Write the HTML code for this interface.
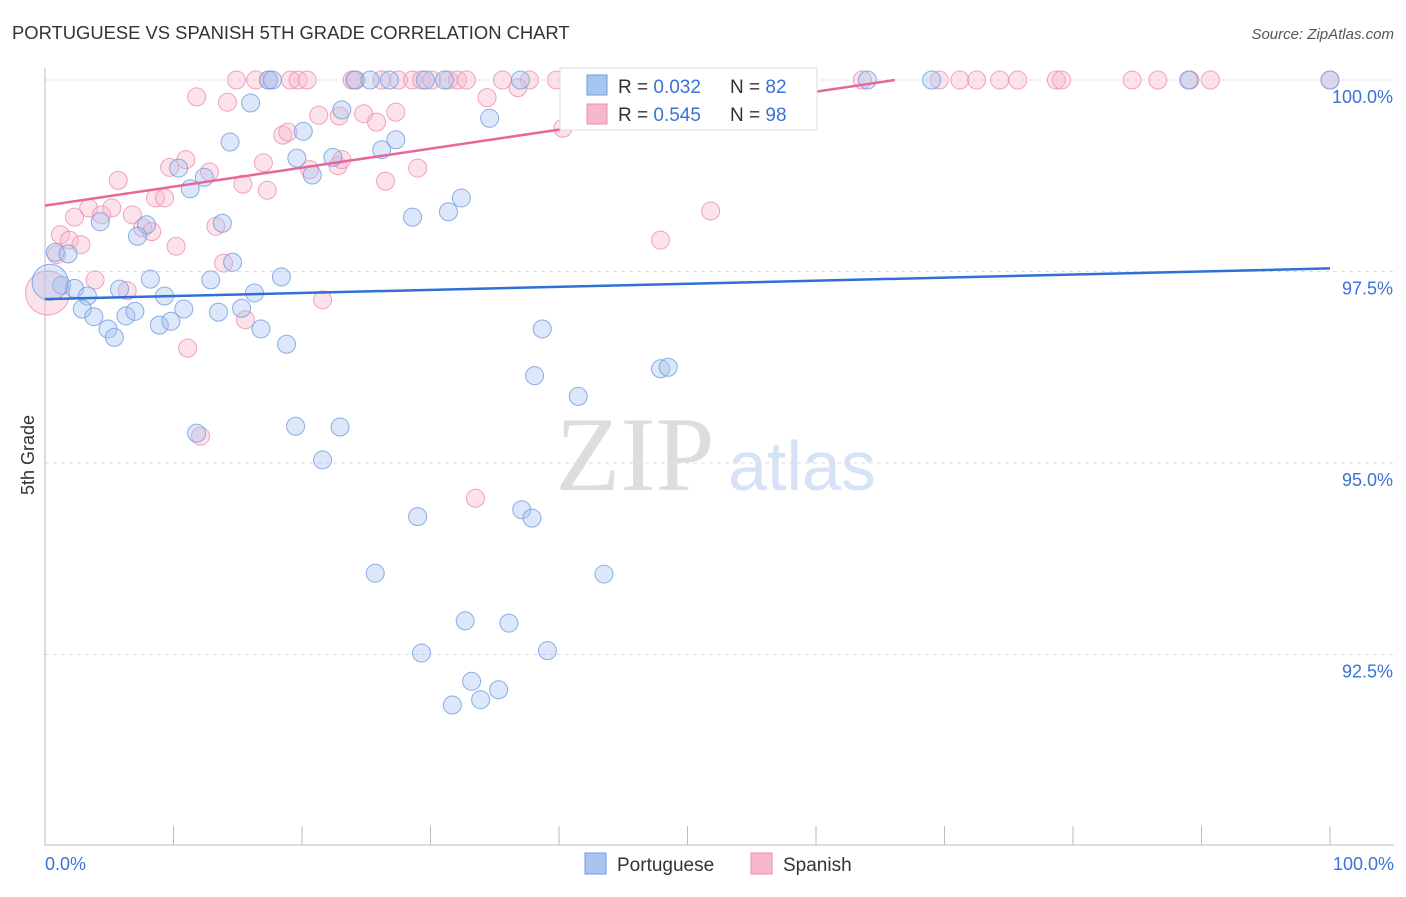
<!DOCTYPE html>
<html><head><meta charset="utf-8"><style>
body{margin:0;background:#fff;font-family:"Liberation Sans",sans-serif}
</style></head><body>
<svg width="1406" height="892" xmlns="http://www.w3.org/2000/svg" font-family="Liberation Sans, sans-serif">
<text x="12" y="39" font-size="18.4" fill="#333">PORTUGUESE VS SPANISH 5TH GRADE CORRELATION CHART</text>
<text x="1394" y="39" font-size="15" fill="#555" text-anchor="end" font-style="italic">Source: ZipAtlas.com</text>
<text x="635" y="490" font-size="106" fill="#ddd" text-anchor="middle" font-family="Liberation Serif, serif">ZIP</text>
<text x="802" y="490" font-size="70" fill="#d6e2f5" text-anchor="middle">atlas</text>
<g id="grid"></g><g id="axes"></g><g id="pts"></g><g id="lines"></g>
<text transform="translate(34,455) rotate(-90)" font-size="18" fill="#333" text-anchor="middle">5th Grade</text>
<g>
<rect x="560" y="68" width="257" height="62" fill="#fff" stroke="#ddd"/>
<rect x="587" y="75" width="20" height="20" fill="#a8c4f0" stroke="#6f9be0"/>
<rect x="587" y="104" width="20" height="20" fill="#f7b8cb" stroke="#ec8eab"/>
<text x="618" y="93" font-size="19" fill="#333">R = <tspan fill="#3a72d8">0.032</tspan></text>
<text x="730" y="93" font-size="19" fill="#333">N = <tspan fill="#3a72d8">82</tspan></text>
<text x="618" y="121" font-size="19" fill="#333">R = <tspan fill="#3a72d8">0.545</tspan></text>
<text x="730" y="121" font-size="19" fill="#333">N = <tspan fill="#3a72d8">98</tspan></text>
</g>
<g>
<rect x="585" y="853" width="21" height="21" fill="#a8c4f0" stroke="#6f9be0"/>
<text x="617" y="871" font-size="19" fill="#333">Portuguese</text>
<rect x="751" y="853" width="21" height="21" fill="#f7b8cb" stroke="#ec8eab"/>
<text x="783" y="871" font-size="19" fill="#333">Spanish</text>
</g>
</svg>
<script>
const yTicks=[100,97.5,95,92.5];
const yTickLabels=["100.0%","97.5%","95.0%","92.5%"];
const xTickLabels=["0.0%","100.0%"];
const blueX=[17.4,17.7,24.1,25.3,26.8,29.6,31.1,37.0,64.0,69.0,89.0,100,16.0,23.1,34.6,20.1,14.4,27.3,26.2,19.6,22.4,10.4,20.8,12.4,11.3,32.4,31.4,28.6,4.3,7.9,13.8,7.2,0.8,1.8,14.6,8.2,12.9,18.4,1.3,2.3,3.3,5.8,9.3,16.3,2.9,3.8,6.3,7.0,10.8,13.5,15.3,4.9,5.4,8.9,9.8,16.8,18.8,38.7,38.1,47.9,48.5,41.5,11.8,19.5,22.96,21.6,29.0,37.1,37.9,25.7,43.5,32.7,36.1,29.3,39.1,33.2,35.3,31.7,33.9,0.4];
const blueY=[100,100,100,100,100,100,100,100,100,100,100,100,99.7,99.61,99.5,99.33,99.19,99.22,99.09,98.98,98.99,98.85,98.76,98.73,98.58,98.46,98.28,98.21,98.15,98.11,98.13,97.96,97.75,97.73,97.62,97.40,97.39,97.43,97.32,97.28,97.18,97.27,97.18,97.22,97.01,96.91,96.92,96.98,97.01,96.97,97.02,96.75,96.64,96.80,96.85,96.75,96.55,96.75,96.14,96.23,96.25,95.87,95.39,95.48,95.47,95.04,94.30,94.39,94.28,93.56,93.55,92.94,92.91,92.52,92.55,92.15,92.04,91.84,91.91,97.36];
const pinkX=[14.9,16.4,17.4,19.1,19.7,20.4,23.9,24.2,26.2,27.5,28.6,29.3,30.1,31.4,32.1,32.8,35.6,37.7,39.8,41.8,43.8,46.0,47.9,50.0,51.8,53.3,54.9,56.4,63.6,69.6,71.2,72.5,74.3,75.7,78.7,79.1,84.6,86.6,89.1,90.7,100,11.8,14.2,34.4,36.8,21.3,22.9,24.8,25.8,27.3,18.5,18.9,40.3,10.96,9.7,12.8,17.0,20.6,22.8,23.1,29.0,5.7,15.4,17.3,26.5,8.6,9.3,3.4,5.2,2.3,4.4,6.8,51.8,13.3,7.6,8.3,1.2,1.9,2.8,10.2,47.9,0.9,13.9,3.9,6.4,21.6,15.6,11.1,12.1,33.5,0.2];
const pinkY=[100,100,100,100,100,100,100,100,100,100,100,100,100,100,100,100,100,100,100,100,100,100,100,100,100,100,100,100,100,100,100,100,100,100,100,100,100,100,100,100,100,99.78,99.71,99.77,99.9,99.54,99.53,99.56,99.45,99.58,99.28,99.32,99.37,98.96,98.86,98.8,98.92,98.83,98.88,98.96,98.85,98.69,98.64,98.56,98.68,98.46,98.46,98.33,98.33,98.21,98.24,98.24,98.29,98.09,98.07,98.02,97.98,97.91,97.85,97.83,97.91,97.72,97.61,97.39,97.25,97.13,96.87,96.50,95.35,94.54,97.22];
const blueTrend=[97.14,97.54];
const pinkTrend=[98.36,100.84];
const X=v=>45+v*12.85, Y=v=>80+(100-v)*76.6;
const NS="http://www.w3.org/2000/svg";
function mk(parent,tag,attrs){const e=document.createElementNS(NS,tag);for(const k in attrs)e.setAttribute(k,attrs[k]);document.getElementById(parent).appendChild(e);return e;}
yTicks.forEach((t,i)=>{
 const l=mk('grid','line',{x1:45,x2:1394,y1:Y(t),y2:Y(t),stroke:'#ddd','stroke-dasharray':'4,4'});
 
 
 const tx=mk('grid','text',{x:1393,y:Y(t)+23,'font-size':18,fill:'#3a72d8','text-anchor':'end'});
 tx.textContent=yTickLabels[i];
 
 
});
const ax=mk('axes','path',{d:'M45,68V845H1394',stroke:'#bbb',fill:'none'});


for(let i=0;i<=10;i++){
 const t=mk('axes','line',{x1:X(i*10),x2:X(i*10),y1:826,y2:845,stroke:'#bbb'});
 
 
}
[[0,'start',45],[100,'end',1394]].forEach((d,i)=>{
 const tx=mk('axes','text',{x:d[2],y:870,'font-size':18,fill:'#3a72d8','text-anchor':d[1]});
 tx.textContent=xTickLabels[i];
 
 
});
function dots(xs,ys,fill,stroke,name,bigIdx,bigR){
 xs.forEach((x,i)=>{
  const r=i===bigIdx?bigR:9;
  const c=mk('pts','circle',{cx:X(x),cy:Y(ys[i]),r:r,fill:fill,'fill-opacity':0.4,stroke:stroke,'stroke-opacity':0.8});
  
  
 });
}
dots(pinkX,pinkY,'#f7b8cb','#ec8eab','spanish-point',pinkX.length-1,22);
dots(blueX,blueY,'#a8c4f0','#6f9be0','portuguese-point',blueX.length-1,18);
const bl=mk('lines','line',{x1:X(0),y1:Y(blueTrend[0]),x2:X(100),y2:Y(blueTrend[1]),stroke:'#2f6fd6','stroke-width':2.5});


const xEnd=(100-pinkTrend[0])/((pinkTrend[1]-pinkTrend[0])/100);
const pl=mk('lines','line',{x1:X(0),y1:Y(pinkTrend[0]),x2:X(xEnd),y2:Y(100),stroke:'#e8679a','stroke-width':2.5});


</script>
</body></html>
